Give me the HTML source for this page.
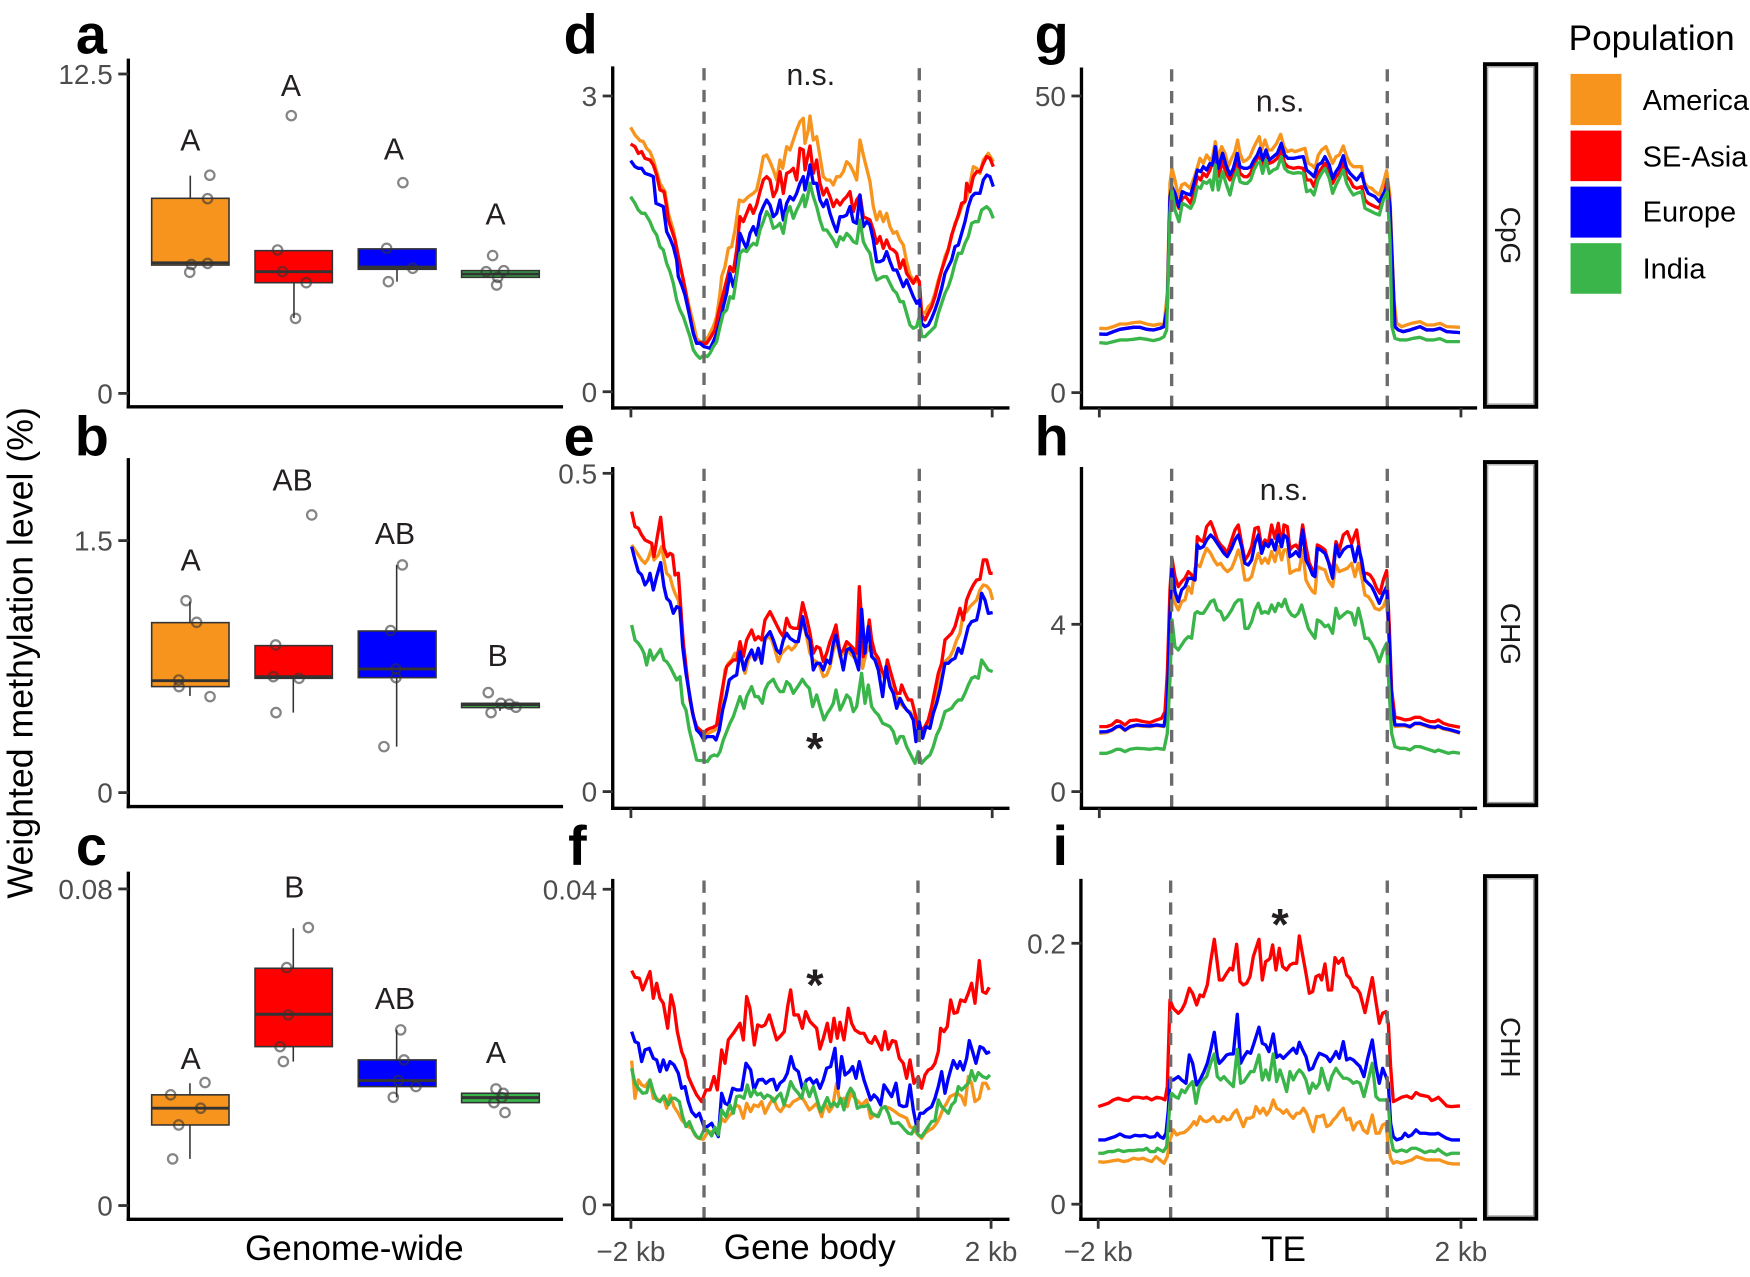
<!DOCTYPE html>
<html>
<head>
<meta charset="utf-8">
<style>
  html, body { margin: 0; padding: 0; background: #ffffff; }
  body { width: 1750px; height: 1277px; overflow: hidden; }
  svg { display: block; }
  text { font-family: "Liberation Sans", Arial, sans-serif; }
</style>
</head>
<body>
<svg width="1750" height="1277" viewBox="0 0 1568 1144.23" preserveAspectRatio="none" xmlns="http://www.w3.org/2000/svg">
  <rect x="0" y="0" width="1568" height="1144.23" fill="#ffffff"/>

  <!-- Panel letters -->
  <g font-size="50" font-weight="bold" fill="#000">
    <text x="68" y="48">a</text>
    <text x="505" y="48">d</text>
    <text x="927" y="48">g</text>
    <text x="67" y="408">b</text>
    <text x="505" y="408">e</text>
    <text x="927" y="408">h</text>
    <text x="68" y="775">c</text>
    <text x="509" y="775">f</text>
    <text x="943" y="775">i</text>
  </g>

  <!-- Y axis title -->
  <text transform="translate(29,585) rotate(-90)" text-anchor="middle" font-size="32" fill="#000">Weighted methylation level (%)</text>

  <!-- ============ Box plot panels (a, b, c) ============ -->
  <g stroke="#000" stroke-width="3" fill="none" stroke-linecap="square">
    <line x1="115" y1="54" x2="115" y2="364.5"/>
    <line x1="115" y1="364.5" x2="503" y2="364.5"/>
    <line x1="115" y1="412" x2="115" y2="722.7"/>
    <line x1="115" y1="722.7" x2="503" y2="722.7"/>
    <line x1="115" y1="782.5" x2="115" y2="1092.5"/>
    <line x1="115" y1="1092.5" x2="503" y2="1092.5"/>
  </g>
  <g stroke="#333" stroke-width="2.5">
    <line x1="106" y1="66.3" x2="115" y2="66.3"/>
    <line x1="106" y1="352.5" x2="115" y2="352.5"/>
    <line x1="106" y1="484.4" x2="115" y2="484.4"/>
    <line x1="106" y1="710.2" x2="115" y2="710.2"/>
    <line x1="106" y1="796.5" x2="115" y2="796.5"/>
    <line x1="106" y1="1080.2" x2="115" y2="1080.2"/>
  </g>
  <g font-size="25" fill="#4D4D4D" text-anchor="end">
    <text x="101" y="75.3">12.5</text>
    <text x="101" y="361.5">0</text>
    <text x="101" y="493.4">1.5</text>
    <text x="101" y="719.2">0</text>
    <text x="101" y="805.5">0.08</text>
    <text x="101" y="1089.2">0</text>
  </g>

  <!-- Panel a boxes -->
  <g stroke="#333" stroke-width="1.4">
    <line x1="170.5" y1="157.4" x2="170.5" y2="177.7"/>
    <line x1="263.4" y1="253.3" x2="263.4" y2="285"/>
    <line x1="355.7" y1="241.3" x2="355.7" y2="252.4"/>
    <rect x="135.9" y="177.7" width="69.3" height="59.8" fill="#F7941D"/>
    <rect x="228.5" y="224.6" width="69.3" height="28.7" fill="#FF0000"/>
    <rect x="321" y="223" width="69.7" height="18.3" fill="#0000FF"/>
    <rect x="413.6" y="242.5" width="69.6" height="6" fill="#39B54A"/>
  </g>
  <g stroke="#333" stroke-width="2.6">
    <line x1="135.9" y1="235.5" x2="205.2" y2="235.5"/>
    <line x1="228.5" y1="243.4" x2="297.8" y2="243.4"/>
    <line x1="321" y1="239.3" x2="390.7" y2="239.3"/>
    <line x1="413.6" y1="245.6" x2="483.2" y2="245.6"/>
  </g>
  <g fill="none" stroke="#333" stroke-opacity="0.6" stroke-width="2">
    <circle cx="188" cy="157" r="4.2"/><circle cx="186" cy="178" r="4.2"/><circle cx="171.5" cy="237" r="4.2"/><circle cx="186" cy="236" r="4.2"/><circle cx="170" cy="244" r="4.2"/>
    <circle cx="261" cy="103.6" r="4.2"/><circle cx="248.7" cy="224" r="4.2"/><circle cx="253" cy="243.4" r="4.2"/><circle cx="274.4" cy="253.3" r="4.2"/><circle cx="264.8" cy="285.3" r="4.2"/>
    <circle cx="361" cy="163.7" r="4.2"/><circle cx="346.4" cy="222.5" r="4.2"/><circle cx="369.8" cy="240.4" r="4.2"/><circle cx="348" cy="252.4" r="4.2"/>
    <circle cx="441.4" cy="229" r="4.2"/><circle cx="435.6" cy="243.4" r="4.2"/><circle cx="451.4" cy="242.5" r="4.2"/><circle cx="446" cy="248.5" r="4.2"/><circle cx="445" cy="255.4" r="4.2"/>
  </g>

  <!-- Panel b boxes -->
  <g stroke="#333" stroke-width="1.4">
    <line x1="170.2" y1="539" x2="170.2" y2="557.9"/>
    <line x1="170.2" y1="615.2" x2="170.2" y2="623.6"/>
    <line x1="262.8" y1="607.8" x2="262.8" y2="638.5"/>
    <line x1="355.4" y1="506.2" x2="355.4" y2="565.4"/>
    <line x1="355.4" y1="607.2" x2="355.4" y2="669"/>
    <line x1="448" y1="634" x2="448" y2="637"/>
    <rect x="135.9" y="557.9" width="69.3" height="57.3" fill="#F7941D"/>
    <rect x="228.5" y="578.5" width="69.3" height="29.3" fill="#FF0000"/>
    <rect x="321" y="565.4" width="69.7" height="41.8" fill="#0000FF"/>
    <rect x="413.6" y="630.2" width="69.6" height="3.8" fill="#39B54A"/>
  </g>
  <g stroke="#333" stroke-width="2.6">
    <line x1="135.9" y1="609.9" x2="205.2" y2="609.9"/>
    <line x1="228.5" y1="606.3" x2="297.8" y2="606.3"/>
    <line x1="321" y1="599.4" x2="390.7" y2="599.4"/>
    <line x1="413.6" y1="631.3" x2="483.2" y2="631.3"/>
  </g>
  <g fill="none" stroke="#333" stroke-opacity="0.6" stroke-width="2">
    <circle cx="166.7" cy="538.2" r="4.2"/><circle cx="176.2" cy="557.6" r="4.2"/><circle cx="160.1" cy="609.3" r="4.2"/><circle cx="160.4" cy="615.2" r="4.2"/><circle cx="188.2" cy="624.2" r="4.2"/>
    <circle cx="279.3" cy="461.4" r="4.2"/><circle cx="247" cy="577.9" r="4.2"/><circle cx="244.9" cy="606.3" r="4.2"/><circle cx="267.9" cy="607.8" r="4.2"/><circle cx="247.3" cy="638.5" r="4.2"/>
    <circle cx="360.5" cy="506.2" r="4.2"/><circle cx="350" cy="565" r="4.2"/><circle cx="354.8" cy="599.4" r="4.2"/><circle cx="354.8" cy="607.2" r="4.2"/><circle cx="344" cy="669" r="4.2"/>
    <circle cx="437.5" cy="620.6" r="4.2"/><circle cx="448.9" cy="630.2" r="4.2"/><circle cx="456.4" cy="631" r="4.2"/><circle cx="462.3" cy="633.7" r="4.2"/><circle cx="440" cy="638.5" r="4.2"/>
  </g>

  <!-- Panel c boxes -->
  <g stroke="#333" stroke-width="1.4">
    <line x1="170.2" y1="970.6" x2="170.2" y2="981"/>
    <line x1="170.2" y1="1008" x2="170.2" y2="1038.4"/>
    <line x1="262.8" y1="831.7" x2="262.8" y2="867.6"/>
    <line x1="262.8" y1="937.8" x2="262.8" y2="951.2"/>
    <line x1="355.4" y1="922.8" x2="355.4" y2="949.7"/>
    <line x1="355.4" y1="973.6" x2="355.4" y2="983.2"/>
    <rect x="135.9" y="981" width="69.3" height="27" fill="#F7941D"/>
    <rect x="228.5" y="867.6" width="69.3" height="70.2" fill="#FF0000"/>
    <rect x="321" y="949.7" width="69.7" height="23.9" fill="#0000FF"/>
    <rect x="413.6" y="979.6" width="69.6" height="8.4" fill="#39B54A"/>
  </g>
  <g stroke="#333" stroke-width="2.6">
    <line x1="135.9" y1="993" x2="205.2" y2="993"/>
    <line x1="228.5" y1="908.8" x2="297.8" y2="908.8"/>
    <line x1="321" y1="968.2" x2="390.7" y2="968.2"/>
    <line x1="413.6" y1="983.5" x2="483.2" y2="983.5"/>
  </g>
  <g fill="none" stroke="#333" stroke-opacity="0.6" stroke-width="2">
    <circle cx="183.7" cy="970" r="4.2"/><circle cx="152.9" cy="981" r="4.2"/><circle cx="179.8" cy="993" r="4.2"/><circle cx="160.1" cy="1008" r="4.2"/><circle cx="154.7" cy="1038.4" r="4.2"/>
    <circle cx="276.3" cy="831.1" r="4.2"/><circle cx="256.9" cy="867" r="4.2"/><circle cx="258.3" cy="909.4" r="4.2"/><circle cx="250.9" cy="937.8" r="4.2"/><circle cx="253.9" cy="951.2" r="4.2"/>
    <circle cx="359" cy="922.8" r="4.2"/><circle cx="362" cy="949.7" r="4.2"/><circle cx="356.9" cy="968.2" r="4.2"/><circle cx="372.7" cy="973.6" r="4.2"/><circle cx="352.4" cy="983.2" r="4.2"/>
    <circle cx="444.4" cy="975.7" r="4.2"/><circle cx="451" cy="979.6" r="4.2"/><circle cx="449.5" cy="983.5" r="4.2"/><circle cx="442.6" cy="988" r="4.2"/><circle cx="452.5" cy="996.9" r="4.2"/>
  </g>

  <!-- group letters -->
  <g font-size="27" fill="#231F20" text-anchor="middle">
    <text x="170.5" y="135">A</text>
    <text x="260.7" y="86">A</text>
    <text x="353" y="143">A</text>
    <text x="444" y="201">A</text>
    <text x="170.8" y="511.4">A</text>
    <text x="262.2" y="439.7">AB</text>
    <text x="353.9" y="487.5">AB</text>
    <text x="445.9" y="596.6">B</text>
    <text x="170.8" y="958">A</text>
    <text x="263.7" y="804">B</text>
    <text x="353.9" y="904">AB</text>
    <text x="444.4" y="952.6">A</text>
  </g>

  <!-- ============ Gene body panels (d, e, f) ============ -->
  <g transform="translate(537.59,35.84) scale(0.298656)" fill="none" stroke-width="10" stroke-linejoin="round">
    <polyline stroke="#F7941D" points="92,262 105,285 120,302 130,305 140,325 150,335 160,360 170,395 180,430 195,455 205,520 220,570 235,650 250,720 265,790 280,850 290,895 300,905 312,905 325,890 340,860 350,830 360,760 365,710 375,680 385,625 395,620 405,570 418,480 430,485 445,470 460,460 470,450 480,405 490,350 500,345 510,365 520,390 530,420 540,360 548,385 560,320 570,330 580,300 590,270 600,245 610,235 615,310 625,270 630,228 640,300 650,290 660,350 670,410 680,420 690,420 700,435 710,410 720,410 730,395 740,365 750,375 760,395 770,420 780,300 790,345 800,385 810,425 820,500 830,540 840,515 850,545 860,520 870,560 880,580 890,575 900,600 910,615 920,665 930,705 940,720 950,725 958,725 965,815 975,820 985,800 995,790 1005,760 1015,720 1025,690 1035,650 1045,625 1055,590 1065,550 1075,530 1085,500 1100,475 1110,430 1120,380 1130,385 1140,400 1150,360 1165,340 1180,365"/>
    <polyline stroke="#FF0000" points="92,312 105,320 115,340 125,335 135,355 150,360 160,375 170,405 180,450 192,455 200,500 205,540 215,570 225,600 235,650 250,720 265,800 280,880 290,910 300,908 312,910 320,910 330,895 345,870 355,820 370,760 380,720 390,680 400,695 410,630 420,530 430,545 440,520 450,495 460,520 470,495 480,455 490,420 500,410 510,420 520,470 530,450 540,395 550,460 560,400 570,395 580,385 590,420 600,325 610,330 615,390 622,355 630,318 640,400 650,360 660,430 670,465 680,445 690,470 700,500 710,480 720,495 730,480 740,470 750,455 760,515 770,480 780,465 790,530 800,535 810,540 820,570 830,610 840,590 850,625 860,600 870,625 880,630 890,640 900,685 910,660 920,700 930,715 940,730 950,710 958,725 965,825 975,840 985,820 995,800 1005,770 1015,730 1025,690 1035,660 1045,630 1055,585 1065,555 1075,525 1085,490 1095,485 1100,430 1110,455 1120,410 1130,395 1140,395 1150,370 1160,350 1170,355 1180,380"/>
    <polyline stroke="#0000FF" points="92,362 105,380 115,385 125,385 135,400 150,405 160,410 168,490 180,495 190,500 200,575 210,595 220,620 230,660 235,710 245,735 255,765 265,810 280,880 290,910 300,910 312,920 320,922 330,925 340,905 350,880 360,845 370,800 380,760 390,700 400,740 410,700 420,580 430,605 440,625 450,580 460,560 470,585 480,525 490,500 500,480 510,495 520,530 530,520 540,480 550,540 560,490 570,470 580,480 590,460 600,430 610,410 615,450 625,405 630,375 640,430 650,430 660,480 670,500 680,480 690,520 700,550 710,575 720,530 730,530 740,525 750,500 760,545 770,550 780,465 790,560 800,545 810,555 820,600 830,665 840,665 850,660 860,635 870,665 880,690 890,690 900,715 910,740 920,720 930,745 940,770 950,790 958,780 965,850 975,860 985,855 995,835 1005,810 1015,780 1025,745 1035,700 1045,680 1055,660 1065,620 1075,615 1085,580 1095,545 1105,500 1115,470 1125,460 1140,460 1150,420 1160,405 1170,410 1180,440"/>
    <polyline stroke="#39B54A" points="92,470 105,490 115,510 125,520 135,520 150,545 160,570 170,585 180,620 190,630 200,670 210,695 220,730 230,780 240,810 250,830 260,860 270,890 280,930 290,945 300,955 312,945 322,950 330,940 340,920 350,905 360,860 370,820 380,810 390,770 400,775 410,710 420,640 430,630 440,635 450,620 460,610 470,615 480,570 490,545 500,515 510,530 520,565 530,560 540,550 550,580 560,520 570,500 580,535 590,510 600,490 610,465 615,500 622,475 630,430 640,470 650,500 660,540 670,570 680,570 690,585 700,600 710,620 720,590 730,600 740,580 750,590 760,605 770,610 780,540 790,605 800,625 810,640 820,690 830,720 840,715 850,710 860,710 870,730 880,750 890,760 900,785 910,785 920,820 930,855 940,865 950,860 958,830 965,890 975,890 985,880 995,870 1005,860 1015,820 1025,790 1035,760 1045,740 1055,710 1065,670 1075,640 1085,640 1095,610 1105,590 1115,550 1125,545 1135,545 1145,510 1160,500 1170,510 1180,535"/>
  </g>

  <g transform="translate(537.59,394.23) scale(0.298656)" fill="none" stroke-width="10" stroke-linejoin="round">
    <polyline stroke="#F7941D" points="95,315 105,330 115,345 125,360 135,370 145,355 155,325 162,360 175,345 185,320 192,360 200,400 210,410 218,440 225,460 235,480 245,560 255,650 265,740 275,800 285,850 295,870 305,880 315,885 325,880 335,875 345,870 355,860 365,780 375,690 385,670 395,660 405,640 415,640 425,650 435,700 445,660 455,640 465,660 475,650 485,650 495,600 505,590 515,600 525,630 535,665 545,640 555,630 565,620 575,630 585,620 595,600 608,545 620,590 630,640 640,660 650,665 660,680 670,710 680,705 690,680 700,630 710,600 720,650 730,640 740,620 750,640 760,650 770,660 778,600 788,685 798,640 808,620 818,650 828,660 838,680 848,710 860,700 870,730 880,760 890,770 900,790 910,800 920,810 930,815 940,830 950,860 960,860 970,870 980,860 990,850 1000,800 1010,760 1020,700 1030,670 1040,660 1050,650 1060,630 1070,600 1080,580 1090,520 1100,515 1110,500 1120,490 1130,480 1140,450 1150,435 1160,438 1170,450 1178,480"/>
    <polyline stroke="#FF0000" points="95,215 105,260 115,265 125,285 135,300 145,305 155,310 162,350 172,290 182,232 192,325 202,350 210,340 218,345 225,405 235,400 240,470 250,610 260,700 270,780 280,830 290,860 300,870 312,880 320,870 330,865 340,862 350,855 360,790 370,730 380,680 390,670 400,660 410,660 420,605 430,650 440,600 455,570 465,600 475,590 485,600 495,540 510,515 520,535 530,555 540,575 550,590 560,535 570,560 580,565 595,565 608,488 620,535 630,580 640,640 650,620 660,625 670,665 680,640 690,605 700,580 708,555 720,640 730,630 740,605 750,615 760,625 770,640 778,440 785,540 790,650 800,600 808,540 815,600 825,640 835,655 845,690 855,710 862,660 870,690 880,725 890,760 900,760 905,735 915,760 925,780 935,780 945,820 955,860 965,870 975,860 985,840 995,800 1005,750 1015,700 1025,670 1035,600 1045,590 1055,580 1065,560 1080,505 1090,540 1100,480 1110,455 1120,435 1130,420 1140,418 1150,360 1160,360 1170,400 1178,400"/>
    <polyline stroke="#0000FF" points="95,320 105,360 115,395 125,405 135,435 145,420 150,400 160,450 170,410 182,368 192,440 200,475 210,485 220,520 230,500 240,505 248,620 258,700 268,760 278,820 290,870 300,880 312,900 320,890 330,890 340,890 348,900 358,870 368,810 378,770 388,720 400,710 410,705 420,635 432,690 440,660 455,630 465,660 475,625 485,670 495,595 510,575 520,600 530,630 540,640 550,600 560,580 570,595 585,605 595,605 608,530 620,585 630,600 640,690 650,670 660,670 670,690 680,660 690,670 700,610 708,585 720,640 730,690 740,630 750,625 760,640 770,670 776,690 785,508 795,640 805,560 815,650 825,660 835,690 848,770 858,680 870,740 880,760 890,805 900,775 910,795 920,810 930,820 940,840 948,905 958,845 968,895 978,860 990,865 1000,820 1010,790 1020,750 1035,670 1045,670 1055,660 1065,655 1075,625 1085,640 1095,600 1105,560 1115,545 1130,540 1138,505 1145,460 1155,480 1165,520 1178,518"/>
    <polyline stroke="#39B54A" points="95,555 105,600 115,610 125,625 132,640 140,675 150,630 160,660 170,645 182,628 192,660 200,665 210,680 220,700 230,720 240,710 248,790 258,810 268,870 278,910 290,960 300,962 312,962 322,965 332,950 342,945 352,948 360,935 370,900 380,875 390,850 400,830 410,800 420,770 432,805 440,770 455,740 465,770 475,770 487,790 495,750 505,730 520,718 530,740 540,755 550,755 560,725 570,735 580,760 590,745 600,730 607,718 618,735 628,745 638,800 650,765 660,800 672,840 682,820 692,805 700,790 708,750 720,810 730,790 740,765 750,775 760,815 770,800 785,700 795,790 805,735 815,800 825,815 835,825 848,850 860,855 870,860 880,875 890,910 900,890 910,890 920,920 930,940 945,970 955,935 965,970 978,955 990,945 1000,920 1010,885 1020,865 1035,815 1045,810 1055,805 1065,790 1075,780 1085,780 1095,760 1105,735 1115,715 1125,710 1135,715 1145,660 1155,675 1165,690 1178,695"/>
  </g>

  <g transform="translate(537.59,761.58) scale(0.298656)" fill="none" stroke-width="10" stroke-linejoin="round">
    <polyline stroke="#F7941D" points="95,632 105,745 115,690 125,705 135,710 150,690 160,745 170,745 180,755 190,740 200,775 210,735 222,770 235,790 245,810 255,820 265,830 275,835 285,855 295,865 310,868 322,848 335,845 345,845 355,850 365,805 375,815 385,800 395,790 408,765 418,770 430,805 440,760 452,785 462,765 475,770 485,755 495,790 510,760 520,745 532,775 542,785 555,765 568,770 580,755 590,750 605,740 617,760 628,780 640,770 650,760 665,800 675,760 688,785 698,770 710,700 720,760 732,745 742,770 752,730 765,745 775,755 785,765 800,750 812,805 822,795 832,800 845,775 855,770 870,775 885,785 898,795 910,800 920,805 930,830 940,835 950,850 965,865 975,850 988,840 998,835 1010,820 1020,800 1030,775 1040,760 1050,740 1060,735 1072,730 1085,740 1095,765 1105,680 1115,700 1125,755 1138,745 1148,700 1158,700 1168,720"/>
    <polyline stroke="#FF0000" points="95,362 105,382 118,385 128,420 138,395 150,365 160,445 170,400 180,445 190,460 203,535 213,435 222,470 232,545 245,605 255,630 265,680 278,710 290,735 305,755 318,720 330,720 342,680 352,720 365,600 375,640 385,570 400,550 410,535 420,520 430,570 440,440 450,475 463,585 473,525 485,530 495,525 508,495 518,530 530,570 540,560 553,545 563,470 572,420 582,495 595,495 607,535 617,485 630,515 640,525 650,535 660,597 670,565 682,520 692,575 702,505 712,565 720,517 732,570 745,475 755,520 765,540 780,550 792,550 805,575 815,580 825,560 835,580 845,600 855,545 865,598 877,572 887,575 898,625 910,640 920,685 930,630 942,700 955,680 965,715 975,675 985,660 995,655 1005,640 1015,605 1022,535 1032,545 1042,530 1052,450 1062,490 1072,487 1082,450 1095,455 1105,430 1115,400 1125,460 1138,332 1148,425 1158,430 1168,412"/>
    <polyline stroke="#0000FF" points="95,545 105,575 115,580 125,635 135,600 148,595 160,625 170,630 180,665 190,630 200,660 210,635 222,645 235,670 245,715 255,710 265,755 275,785 288,800 298,790 312,830 322,830 335,820 345,840 355,860 365,730 375,760 385,765 398,715 410,720 425,720 438,640 452,660 462,720 475,690 488,688 498,700 510,690 520,688 530,720 540,700 552,690 562,670 573,620 583,655 595,665 607,715 620,690 630,685 640,700 650,690 660,715 670,690 680,655 692,650 705,595 715,715 725,620 735,675 748,665 758,650 768,685 778,635 792,690 802,720 812,750 822,735 832,745 842,765 852,705 862,720 875,740 888,700 898,765 910,770 920,768 930,705 940,780 950,830 960,790 970,790 980,780 995,770 1005,745 1015,710 1025,665 1035,730 1045,685 1060,632 1072,655 1080,635 1090,660 1100,625 1108,572 1118,605 1128,640 1140,590 1150,595 1160,610 1170,605"/>
    <polyline stroke="#39B54A" points="95,655 105,700 115,715 128,730 140,728 150,690 160,725 170,750 180,755 192,738 205,765 215,745 225,745 238,755 248,800 258,830 268,815 278,840 290,860 300,865 312,840 322,840 335,858 345,832 355,855 365,780 378,800 390,765 400,790 410,740 420,738 432,745 442,705 452,740 462,720 472,735 482,730 492,745 502,735 512,740 522,755 532,740 542,730 552,765 562,735 572,695 582,715 595,730 605,745 615,700 628,740 640,710 650,745 662,785 672,765 682,743 692,770 702,758 712,770 722,745 732,780 742,735 752,715 762,730 772,775 782,770 792,770 805,765 815,790 825,795 835,800 845,775 855,770 865,790 875,820 885,820 895,818 905,828 915,840 925,850 935,852 945,830 955,855 965,860 975,845 985,830 995,815 1005,812 1015,750 1025,770 1035,780 1045,790 1055,765 1065,755 1075,710 1085,720 1095,710 1105,700 1115,662 1125,692 1135,668 1148,680 1160,685 1170,675"/>
  </g>

  <g stroke="#6b6b6b" stroke-width="3" stroke-dasharray="11 8.5">
    <line x1="630.8" y1="61" x2="630.8" y2="365"/>
    <line x1="823.7" y1="61" x2="823.7" y2="365"/>
    <line x1="630.8" y1="420" x2="630.8" y2="724"/>
    <line x1="823.7" y1="420" x2="823.7" y2="724"/>
    <line x1="630.8" y1="789" x2="630.8" y2="1092"/>
    <line x1="822.5" y1="789" x2="822.5" y2="1092"/>
  </g>

  <g stroke="#000" stroke-width="3" fill="none" stroke-linecap="square">
    <line x1="549" y1="61" x2="549" y2="365.5"/>
    <line x1="549" y1="365.5" x2="903" y2="365.5"/>
    <line x1="549" y1="420" x2="549" y2="724.3"/>
    <line x1="549" y1="724.3" x2="903" y2="724.3"/>
    <line x1="549" y1="789" x2="549" y2="1092.5"/>
    <line x1="549" y1="1092.5" x2="903" y2="1092.5"/>
  </g>
  <g stroke="#333" stroke-width="2.5">
    <line x1="540" y1="86" x2="549" y2="86"/>
    <line x1="540" y1="351" x2="549" y2="351"/>
    <line x1="540" y1="424.1" x2="549" y2="424.1"/>
    <line x1="540" y1="709.3" x2="549" y2="709.3"/>
    <line x1="540" y1="796.8" x2="549" y2="796.8"/>
    <line x1="540" y1="1079.6" x2="549" y2="1079.6"/>
    <line x1="565.3" y1="365.5" x2="565.3" y2="374"/>
    <line x1="889" y1="365.5" x2="889" y2="374"/>
    <line x1="565.3" y1="724.3" x2="565.3" y2="733"/>
    <line x1="889" y1="724.3" x2="889" y2="733"/>
    <line x1="565.3" y1="1092.5" x2="565.3" y2="1101"/>
    <line x1="888" y1="1092.5" x2="888" y2="1101"/>
  </g>
  <g font-size="25" fill="#4D4D4D" text-anchor="end">
    <text x="535" y="95">3</text>
    <text x="535" y="360">0</text>
    <text x="535" y="433.1">0.5</text>
    <text x="535" y="718.3">0</text>
    <text x="535" y="805.8">0.04</text>
    <text x="535" y="1088.6">0</text>
  </g>
  <g font-size="25" fill="#4D4D4D" text-anchor="middle">
    <text x="565.3" y="1130">−2 kb</text>
    <text x="888" y="1130">2 kb</text>
  </g>

  <!-- ============ TE panels (g, h, i) ============ -->
  <g transform="translate(949.74,35.84) scale(0.298656)" fill="none" stroke-width="10" stroke-linejoin="round">
    <polyline stroke="#F7941D" points="118,865 140,866 160,860 180,852 200,852 220,848 240,846 260,852 280,856 300,852 312,855 322,760 330,430 336,385 345,420 355,470 365,435 375,430 390,445 400,420 410,390 420,355 430,370 440,345 450,360 458,350 466,305 475,355 485,320 495,340 505,380 515,355 525,335 533,300 540,340 550,365 560,360 570,350 580,325 590,305 598,290 605,330 615,300 625,330 635,330 650,310 662,283 672,320 682,335 695,330 705,335 720,330 735,325 745,370 755,375 765,385 775,345 785,330 798,320 808,345 818,370 828,350 838,345 850,318 860,350 870,370 880,380 892,380 905,380 912,425 922,440 935,445 945,455 958,465 970,430 980,392 990,470 995,600 1002,780 1010,850 1025,860 1040,855 1055,850 1080,845 1100,855 1120,855 1140,850 1160,860 1200,862"/>
    <polyline stroke="#FF0000" points="118,882 140,883 160,875 180,868 200,865 220,862 240,862 260,868 280,870 300,865 312,860 322,800 330,480 345,475 357,505 367,475 377,470 392,490 402,455 412,410 422,420 430,400 440,410 450,390 466,345 475,410 488,365 498,400 510,420 520,400 532,360 540,400 552,410 562,410 572,400 582,370 592,355 600,350 608,375 618,345 628,370 640,365 652,355 664,330 674,370 684,380 700,385 715,382 730,385 740,420 752,420 762,440 774,400 785,385 795,370 808,400 818,430 828,410 838,400 850,370 860,410 870,420 880,440 890,445 905,440 915,480 925,490 935,495 945,500 958,505 970,470 982,420 990,500 996,650 1005,860 1015,870 1030,875 1050,870 1080,860 1100,870 1120,870 1140,865 1160,875 1200,878"/>
    <polyline stroke="#0000FF" points="118,882 140,883 160,875 180,868 200,865 220,862 240,862 260,868 280,870 300,865 312,860 322,800 330,470 336,440 345,460 357,500 367,455 377,460 392,465 402,430 412,390 422,395 430,380 440,390 450,370 458,375 466,320 475,385 488,340 498,375 510,405 520,385 532,340 540,380 552,385 562,385 572,380 582,360 592,345 600,325 608,360 618,330 628,360 640,350 652,340 664,310 674,345 684,355 700,355 715,352 730,350 740,390 752,400 762,410 774,375 785,368 795,350 808,375 818,415 828,395 838,380 850,347 860,385 870,400 880,410 890,420 905,400 915,440 925,460 935,465 945,470 958,485 970,462 982,440 990,500 996,650 1005,860 1015,870 1030,875 1050,870 1080,860 1100,870 1120,870 1140,865 1160,875 1200,878"/>
    <polyline stroke="#39B54A" points="118,908 140,910 160,905 180,900 200,900 220,898 240,895 260,898 280,902 300,897 312,890 320,870 330,520 336,450 345,510 357,545 367,490 377,495 392,505 402,485 412,440 422,445 430,425 440,430 450,420 458,450 466,375 475,450 488,395 498,430 510,465 520,420 532,390 540,425 552,430 562,430 572,420 582,390 592,370 600,365 608,400 618,360 628,400 640,390 652,385 664,350 674,385 684,395 700,400 715,398 730,400 740,455 752,450 762,465 774,420 785,400 795,385 808,415 818,460 828,435 838,415 850,390 860,430 870,450 880,465 890,460 905,455 915,505 925,510 935,515 945,520 958,525 970,480 982,455 990,600 996,860 1005,895 1020,900 1040,900 1060,895 1080,892 1100,900 1120,900 1140,896 1160,905 1200,905"/>
  </g>

  <g transform="translate(949.74,394.23) scale(0.298656)" fill="none" stroke-width="10" stroke-linejoin="round">
    <polyline stroke="#F7941D" points="118,880 140,878 155,872 170,862 180,860 195,872 210,862 230,857 250,859 270,860 290,857 312,860 322,800 330,540 336,440 345,490 355,510 365,485 375,480 385,440 395,460 405,385 412,375 420,380 430,350 440,325 452,340 462,360 472,375 482,370 492,385 502,395 515,385 525,360 535,330 545,360 555,420 565,420 575,410 585,370 595,340 605,370 615,355 625,370 635,335 645,365 655,320 665,360 672,330 682,330 690,400 698,395 708,390 718,390 728,330 738,420 748,440 758,455 765,460 772,380 782,385 795,390 805,420 818,440 828,375 838,395 850,390 862,385 875,370 885,410 895,370 905,410 915,465 925,470 935,485 945,505 958,510 970,500 980,475 988,620 995,790 1005,860 1020,858 1035,858 1050,862 1065,852 1080,852 1095,857 1110,862 1125,864 1135,860 1150,867 1165,870 1180,874 1200,880"/>
    <polyline stroke="#FF0000" points="118,860 140,860 155,855 170,842 180,845 195,855 210,842 230,840 250,845 270,848 290,840 305,835 315,815 322,700 330,450 336,355 345,410 355,440 365,425 375,415 385,395 395,405 405,420 412,290 420,300 430,305 440,260 452,245 462,270 472,300 482,315 492,325 502,340 515,300 525,270 535,255 545,310 555,360 565,345 575,320 585,265 595,262 605,320 615,300 625,310 635,255 645,295 655,250 665,320 672,255 682,260 690,330 698,320 708,315 718,330 728,255 738,320 748,370 758,390 765,400 772,315 782,320 795,330 805,365 818,395 828,305 838,330 850,285 862,275 875,310 890,270 900,340 910,400 920,400 930,405 940,420 950,445 960,460 970,420 980,392 988,560 995,750 1005,832 1020,835 1035,840 1050,838 1065,832 1080,832 1095,840 1110,845 1125,845 1135,840 1150,850 1165,855 1180,858 1200,862"/>
    <polyline stroke="#0000FF" points="118,876 140,875 155,870 170,860 180,858 195,870 210,860 230,855 250,857 270,858 290,855 312,858 322,800 330,520 336,385 345,455 355,485 365,450 375,440 385,415 395,415 405,420 412,315 420,325 430,320 440,300 452,285 462,295 472,310 482,325 492,340 502,350 515,325 525,300 535,285 545,320 555,370 565,375 575,360 585,310 595,285 605,340 615,310 625,320 635,300 645,330 655,285 665,320 672,285 682,295 690,350 698,345 708,335 718,350 728,270 738,360 748,380 758,405 765,410 772,325 782,330 795,340 805,365 818,415 828,315 838,350 850,330 862,320 875,318 885,365 895,320 905,360 915,420 925,430 935,440 945,460 958,490 970,460 980,440 988,600 995,780 1005,855 1020,855 1035,855 1050,860 1065,850 1080,850 1095,855 1110,860 1125,862 1135,858 1150,865 1165,868 1180,872 1200,878"/>
    <polyline stroke="#39B54A" points="118,940 140,940 155,935 170,928 180,928 195,935 210,928 230,925 250,926 270,928 290,925 312,928 322,880 330,720 336,540 345,620 355,630 365,615 375,600 385,590 395,595 405,520 412,515 420,520 430,520 440,505 452,485 462,480 472,510 482,515 492,540 502,530 515,510 525,490 535,480 545,480 555,565 565,565 575,545 585,510 595,490 605,520 615,515 625,520 635,495 645,515 655,490 665,500 675,478 685,510 695,525 705,530 715,520 725,495 735,530 745,565 758,585 765,595 772,540 782,545 795,560 805,555 818,580 828,505 838,535 850,525 862,515 875,520 885,555 895,505 905,545 915,595 925,595 935,610 945,630 958,665 970,630 980,610 988,760 995,880 1005,920 1020,925 1035,925 1050,930 1065,920 1080,920 1095,925 1110,930 1125,935 1135,930 1150,935 1165,940 1180,937 1200,940"/>
  </g>

  <g transform="translate(949.74,761.58) scale(0.298656)" fill="none" stroke-width="10" stroke-linejoin="round">
    <polyline stroke="#F7941D" points="115,935 130,937 145,935 160,932 175,930 190,935 205,932 220,925 235,928 250,925 260,930 275,935 288,920 300,930 312,940 322,920 330,870 340,840 350,855 360,850 372,848 382,840 392,830 402,815 410,825 420,800 430,812 440,815 450,810 460,800 470,815 480,815 490,800 500,810 510,808 520,790 530,780 540,805 550,830 560,805 570,805 580,800 588,770 600,790 610,775 620,795 630,780 640,750 650,775 660,780 670,790 680,780 690,795 700,805 710,790 720,790 730,775 740,790 750,820 760,845 770,800 780,800 790,795 800,830 810,825 820,810 830,800 840,785 850,775 860,810 870,805 880,840 890,820 900,815 910,840 922,850 937,795 948,850 958,850 968,825 978,820 985,890 992,925 1000,940 1010,935 1025,940 1040,935 1055,930 1070,920 1085,925 1100,930 1115,930 1130,930 1140,930 1150,935 1165,940 1180,942 1200,942"/>
    <polyline stroke="#FF0000" points="115,770 130,765 145,760 160,750 175,745 190,750 205,752 220,742 235,742 250,745 260,742 275,750 290,742 305,745 315,750 322,710 330,450 340,475 355,490 365,480 375,460 388,415 398,430 410,465 420,435 430,440 442,405 452,335 463,268 472,340 478,390 488,390 500,370 510,355 518,360 530,283 540,395 550,405 560,400 570,380 580,320 597,268 607,390 617,335 625,330 630,325 638,285 648,360 658,295 668,350 680,360 690,345 700,340 710,340 718,258 728,315 738,370 748,430 758,425 768,380 778,375 785,390 795,342 805,420 815,420 825,323 835,340 848,325 860,375 870,385 880,410 890,415 900,430 915,488 925,440 937,383 947,450 958,520 968,490 978,485 985,520 992,650 1000,755 1010,750 1025,742 1040,738 1055,745 1068,728 1080,735 1095,738 1105,740 1115,752 1125,748 1135,742 1148,755 1160,768 1175,770 1200,768"/>
    <polyline stroke="#0000FF" points="115,870 135,870 150,865 165,860 180,852 195,860 210,862 225,856 240,858 255,856 270,862 285,860 292,850 300,860 310,865 318,850 325,780 330,690 340,690 355,680 365,690 378,700 388,615 398,640 410,705 420,690 432,665 442,640 452,600 463,547 472,620 478,640 488,630 500,615 510,612 520,612 532,493 542,640 552,620 562,605 572,610 582,580 597,532 607,580 617,585 627,605 640,552 650,622 660,615 670,625 680,615 690,605 700,595 710,610 718,577 728,600 738,620 748,660 758,655 768,630 778,610 790,615 800,620 810,635 820,620 828,605 838,625 850,575 860,630 870,625 880,630 890,640 900,650 912,680 922,630 937,570 948,650 958,700 968,655 978,680 985,700 992,820 1000,860 1010,870 1025,865 1035,850 1045,860 1055,855 1068,840 1080,850 1095,850 1110,852 1125,852 1135,850 1148,858 1160,865 1175,870 1200,870"/>
    <polyline stroke="#39B54A" points="115,910 130,910 145,905 160,905 175,900 190,905 205,902 220,902 235,900 250,900 260,895 270,905 285,905 292,895 300,900 310,905 320,890 330,760 335,730 345,740 355,745 365,720 375,728 385,710 398,695 408,760 418,710 430,690 440,680 452,640 463,612 472,680 482,690 492,680 500,690 510,700 520,710 532,598 542,700 552,695 562,680 572,665 582,665 597,615 607,690 617,660 627,690 640,612 650,695 660,660 670,690 680,725 690,665 700,690 710,670 718,660 728,670 738,690 748,730 758,700 768,715 778,700 785,655 795,690 805,720 815,680 828,655 838,670 850,685 860,685 870,690 880,700 890,695 900,700 912,740 922,700 937,640 948,740 958,750 968,750 978,750 985,760 992,860 1000,900 1010,905 1025,900 1040,905 1055,895 1068,895 1080,900 1095,908 1110,903 1125,905 1135,898 1148,908 1160,915 1175,910 1200,910"/>
  </g>

  <g stroke="#6b6b6b" stroke-width="3" stroke-dasharray="11 8.5">
    <line x1="1049.8" y1="62" x2="1049.8" y2="365"/>
    <line x1="1243" y1="62" x2="1243" y2="365"/>
    <line x1="1049.8" y1="420" x2="1049.8" y2="724"/>
    <line x1="1243" y1="420" x2="1243" y2="724"/>
    <line x1="1048.9" y1="789" x2="1048.9" y2="1092"/>
    <line x1="1243" y1="789" x2="1243" y2="1092"/>
  </g>

  <g stroke="#000" stroke-width="3" fill="none" stroke-linecap="square">
    <line x1="969" y1="62" x2="969" y2="365.5"/>
    <line x1="969" y1="365.5" x2="1322" y2="365.5"/>
    <line x1="969" y1="420" x2="969" y2="724.3"/>
    <line x1="969" y1="724.3" x2="1322" y2="724.3"/>
    <line x1="968.5" y1="789" x2="968.5" y2="1092.5"/>
    <line x1="968.5" y1="1092.5" x2="1322" y2="1092.5"/>
  </g>
  <g stroke="#333" stroke-width="2.5">
    <line x1="960" y1="86" x2="969" y2="86"/>
    <line x1="960" y1="351.8" x2="969" y2="351.8"/>
    <line x1="960" y1="559.4" x2="969" y2="559.4"/>
    <line x1="960" y1="709.3" x2="969" y2="709.3"/>
    <line x1="960" y1="845.2" x2="969" y2="845.2"/>
    <line x1="960" y1="1079" x2="969" y2="1079"/>
    <line x1="985" y1="365.5" x2="985" y2="374"/>
    <line x1="1309" y1="365.5" x2="1309" y2="374"/>
    <line x1="985" y1="724.3" x2="985" y2="733"/>
    <line x1="1309" y1="724.3" x2="1309" y2="733"/>
    <line x1="984" y1="1092.5" x2="984" y2="1101"/>
    <line x1="1309" y1="1092.5" x2="1309" y2="1101"/>
  </g>
  <g font-size="25" fill="#4D4D4D" text-anchor="end">
    <text x="955" y="95">50</text>
    <text x="955" y="360.8">0</text>
    <text x="955" y="568.4">4</text>
    <text x="955" y="718.3">0</text>
    <text x="955" y="854.2">0.2</text>
    <text x="955" y="1088">0</text>
  </g>
  <g font-size="25" fill="#4D4D4D" text-anchor="middle">
    <text x="984" y="1130">−2 kb</text>
    <text x="1309" y="1130">2 kb</text>
  </g>

  <!-- significance annotations -->
  <g font-size="27" fill="#231F20" text-anchor="middle">
    <text x="726.5" y="76.2">n.s.</text>
    <text x="1147" y="100">n.s.</text>
    <text x="1150.5" y="448">n.s.</text>
  </g>
  <g font-size="40" font-weight="bold" fill="#231F20" text-anchor="middle">
    <text x="730" y="684">*</text>
    <text x="730.2" y="896">*</text>
    <text x="1146.9" y="842">*</text>
  </g>

  <!-- X axis titles -->
  <g font-size="31.5" fill="#000" text-anchor="middle">
    <text x="317.5" y="1129">Genome-wide</text>
    <text x="725.5" y="1128">Gene body</text>
    <text x="1150" y="1130">TE</text>
  </g>

  <!-- Strips -->
  <g fill="#ffffff" stroke="#000" stroke-width="3.5">
    <rect x="1330.5" y="57.5" width="46" height="307"/>
    <rect x="1330.5" y="414" width="46" height="307.5"/>
    <rect x="1330.5" y="785" width="46" height="307"/>
  </g>
  <g fill="none" stroke="#9a9a9a" stroke-width="1">
    <rect x="1333" y="60" width="41" height="302"/>
    <rect x="1333" y="416.5" width="41" height="302.5"/>
    <rect x="1333" y="787.5" width="41" height="302"/>
  </g>
  <g font-size="25" fill="#1a1a1a" text-anchor="middle">
    <text transform="translate(1353.5,211) rotate(90)" dy="0.35em">CpG</text>
    <text transform="translate(1353.5,568) rotate(90)" dy="0.35em">CHG</text>
    <text transform="translate(1353.5,938.5) rotate(90)" dy="0.35em">CHH</text>
  </g>

  <!-- Legend -->
  <text x="1405.5" y="44.8" font-size="31.5" fill="#000">Population</text>
  <g stroke="#ffffff" stroke-width="1">
    <rect x="1406.7" y="65.7" width="46.6" height="46.9" fill="#F7941D"/>
    <rect x="1406.7" y="116.5" width="46.6" height="46.3" fill="#FF0000"/>
    <rect x="1406.7" y="166.7" width="46.6" height="46.7" fill="#0000FF"/>
    <rect x="1406.7" y="217.4" width="46.6" height="46.3" fill="#39B54A"/>
  </g>
  <g font-size="26" fill="#000">
    <text x="1471.8" y="98.6">America</text>
    <text x="1471.8" y="149.3">SE-Asia</text>
    <text x="1471.8" y="198.6">Europe</text>
    <text x="1471.8" y="249.4">India</text>
  </g>
</svg>
</body>
</html>
